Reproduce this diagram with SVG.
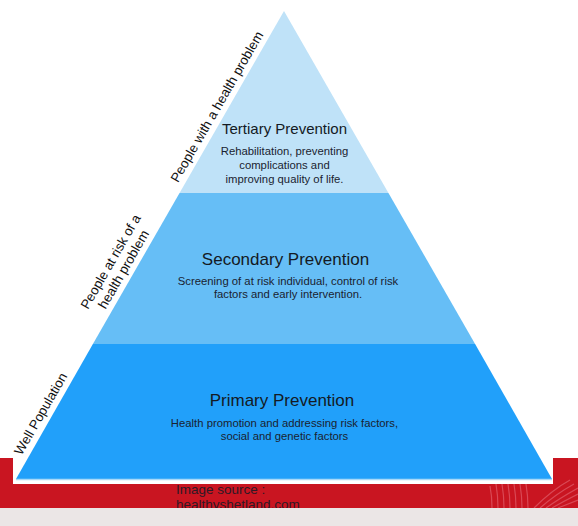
<svg xmlns="http://www.w3.org/2000/svg" width="578" height="526" viewBox="0 0 578 526">
<style>
.title{font-family:"Liberation Sans",Arial,sans-serif;fill:#141a24;text-anchor:middle}
.sub{font-family:"Liberation Sans",Arial,sans-serif;fill:#1a2230;font-size:11.3px;text-anchor:middle}
.side{font-family:"Liberation Sans",Arial,sans-serif;fill:#111;font-size:13.3px;text-anchor:middle}
.src{font-family:"Liberation Sans",Arial,sans-serif;fill:#2e1a26;font-size:13.5px}
.wave{fill:none;stroke:#e46a78;stroke-width:1.2;opacity:0.6}
</style>
<rect x="0" y="0" width="578" height="526" fill="#ffffff"/>
<rect x="0" y="458" width="578" height="50" fill="#c91521"/>
<g id="decor">
<path class="wave" d="M490 486 Q492 496 492 508"/>
<path class="wave" d="M496 484 Q498 496 498 508"/>
<path class="wave" d="M502 484 Q504 496 504 508"/>
<path class="wave" d="M508 484 Q510 496 510 508"/>
<path class="wave" d="M514 484 Q516 496 516 508"/>
<path class="wave" d="M520 484 Q522 496 522 508"/>
<path class="wave" d="M526 484 Q528 496 528 508"/>
<path class="wave" d="M534 508 Q552 490 570 480"/>
<path class="wave" d="M540 508 Q556 494 574 484"/>
<path class="wave" d="M546 508 Q560 498 578 488"/>
<path class="wave" d="M552 508 Q564 501 578 494"/>
<path class="wave" d="M558 508 Q568 504 578 500"/>
</g>
<rect x="13" y="0" width="540" height="484" fill="#ffffff"/>
<text class="src" x="176" y="493.5">Image source :</text>
<text class="src" x="176" y="509">healthyshetland.com</text>
<rect x="0" y="508" width="578" height="18" fill="#ebe6e6"/>
<g id="primary">
<polygon points="92.9,344 475.1,344 552,479 16,479" fill="#21a0fa"/>
<line x1="16" y1="479.5" x2="552" y2="479.5" stroke="#a9d9f8" stroke-width="1.5"/>
<text class="title" x="282" y="406" font-size="17">Primary Prevention</text>
<text class="sub" x="284.5" y="427">Health promotion and addressing risk factors,</text>
<text class="sub" x="284.5" y="440">social and genetic factors</text>
</g>
<g id="secondary">
<polygon points="179.55,193 388.45,193 475.1,344 92.9,344" fill="#66bef6"/>
<text class="title" x="285.5" y="265" font-size="17">Secondary Prevention</text>
<text class="sub" x="288" y="285">Screening of at risk individual, control of risk</text>
<text class="sub" x="288" y="298">factors and early intervention.</text>
</g>
<g id="tertiary">
<polygon points="284,11 388.45,193 179.55,193" fill="#bfe2f8"/>
<text class="title" x="284.5" y="134" font-size="15">Tertiary Prevention</text>
<text class="sub" x="284.5" y="155">Rehabilitation, preventing</text>
<text class="sub" x="284.5" y="169">complications and</text>
<text class="sub" x="284.5" y="183">improving quality of life.</text>
</g>
<g id="labels">
<text class="side" transform="translate(220.8,109) rotate(-60)">People with a health problem</text>
<text class="side" transform="translate(114.5,264) rotate(-60)">People at risk of a</text>
<text class="side" transform="translate(127.5,271.6) rotate(-60)">health problem</text>
<text class="side" transform="translate(44.6,416) rotate(-60)">Well Population</text>
</g>
</svg>
